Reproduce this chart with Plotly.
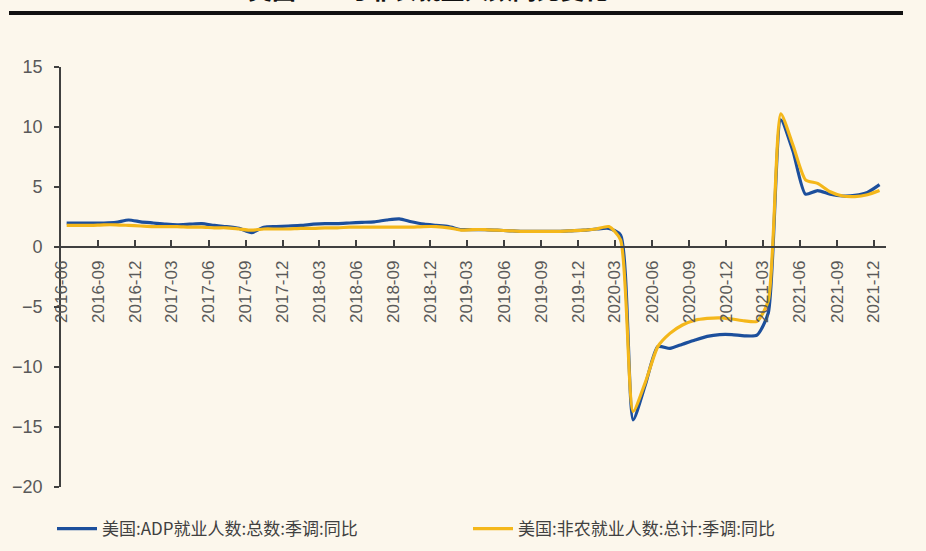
import pandas as pd
import plotly.graph_objects as go

months = pd.date_range("2016-06-01", "2021-12-01", freq="MS").strftime("%Y-%m").tolist()

adp_yoy = [2.0, 2.0, 2.0, 2.0, 2.05, 2.25, 2.1, 2.0, 1.9, 1.85, 1.9, 1.95,
           1.8, 1.7, 1.55, 1.2, 1.65, 1.7, 1.75, 1.8, 1.9, 1.95, 1.95, 2.0,
           2.05, 2.1, 2.25, 2.35, 2.1, 1.9, 1.8, 1.7, 1.45, 1.45, 1.45, 1.4,
           1.35, 1.3, 1.3, 1.3, 1.3, 1.35, 1.4, 1.5, 1.55, 1.0, -14.4, -11.5,
           -8.3, -8.45, -8.1, -7.75, -7.45, -7.3, -7.3, -7.4, -7.35, -5.5, 10.6, 8.0,
           4.4, 4.7, 4.4, 4.25, 4.3, 4.55, 5.2]

nfp_yoy = [1.8, 1.8, 1.8, 1.85, 1.85, 1.8, 1.75, 1.7, 1.7, 1.7, 1.65, 1.65,
           1.6, 1.6, 1.5, 1.4, 1.5, 1.5, 1.5, 1.55, 1.55, 1.6, 1.6, 1.65,
           1.65, 1.65, 1.65, 1.65, 1.65, 1.7, 1.7, 1.6, 1.4, 1.45, 1.45, 1.4,
           1.35, 1.3, 1.3, 1.3, 1.3, 1.35, 1.4, 1.5, 1.7, 0.6, -13.7, -11.3,
           -8.3, -7.2, -6.5, -6.1, -5.95, -5.9, -6.0, -6.15, -6.2, -4.5, 11.1, 8.5,
           5.6, 5.3, 4.6, 4.25, 4.2, 4.35, 4.7]

series_names = ["美国:ADP就业人数:总数:季调:同比", "美国:非农就业人数:总计:季调:同比"]
title_text = "美国ADP与非农就业人数同比变化"

# monthly observations plotted mid-month
x_dates = pd.to_datetime([m + "-15" for m in months])

BG = "#fcf7ec"
BLUE = "#1c4f9c"
GOLD = "#f4b71a"

fig = go.Figure()
fig.add_trace(go.Scatter(x=x_dates, y=adp_yoy, name=series_names[0], mode="lines",
                         line=dict(color=BLUE, width=3.2, shape="spline", smoothing=0.6)))
fig.add_trace(go.Scatter(x=x_dates, y=nfp_yoy, name=series_names[1], mode="lines",
                         line=dict(color=GOLD, width=3.2, shape="spline", smoothing=0.6)))

L, R, T, B = 61, 40, 67, 64
W, H = 926, 551
pw, ph = W - L - R, H - T - B

def px_x(p):
    return (p - L) / pw

def px_y(p):
    return (H - B - p) / ph

ymin, ymax = -20, 15

fig.update_layout(
    width=W, height=H,
    margin=dict(l=L, r=R, t=T, b=B, autoexpand=False),
    paper_bgcolor=BG, plot_bgcolor=BG,
    font=dict(family="Liberation Sans, Arial, sans-serif", color="#595959"),
    showlegend=True,
    legend=dict(orientation="h", x=px_x(52), xanchor="left", y=px_y(529), yanchor="middle",
                font=dict(family="Noto Sans CJK SC", size=17, color="#404040"),
                bgcolor="rgba(0,0,0,0)", entrywidth=361, itemwidth=40),
    xaxis=dict(
        type="date", range=["2016-06-01", "2021-12-31"],
        tick0="2016-06-01", dtick="M3", tickformat="%Y-%m", tickangle=-90,
        anchor="free", position=(0 - ymin) / (ymax - ymin),
        showline=True, linecolor="#404040", linewidth=1.6,
        ticks="inside", ticklen=6, tickwidth=1.6, tickcolor="#404040",
        showgrid=False, zeroline=False,
        tickfont=dict(size=17, color="#595959"), ticklabelstandoff=6,
    ),
    yaxis=dict(
        range=[ymin, ymax], tickvals=[15, 10, 5, 0, -5, -10, -15, -20],
        showline=True, linecolor="#404040", linewidth=1.6,
        ticks="outside", ticklen=5, tickwidth=1.6, tickcolor="#404040",
        showgrid=False, zeroline=False,
        tickfont=dict(size=18, color="#595959"), ticklabelstandoff=8,
    ),
    shapes=[dict(type="line", xref="paper", yref="paper",
                 x0=px_x(9), x1=px_x(903), y0=px_y(13), y1=px_y(13),
                 line=dict(color="#111111", width=4))],
    annotations=[dict(text="<b>" + title_text + "</b>", xref="paper", yref="paper",
                      x=px_x(428), y=px_y(8), xanchor="center", yanchor="bottom",
                      showarrow=False, font=dict(family="Noto Sans CJK SC", size=24, color="#111111"))],
)

fig.write_html("out.html", config={"displayModeBar": False},
               post_script="document.body.style.margin='0';document.body.style.background='%s';" % BG)
